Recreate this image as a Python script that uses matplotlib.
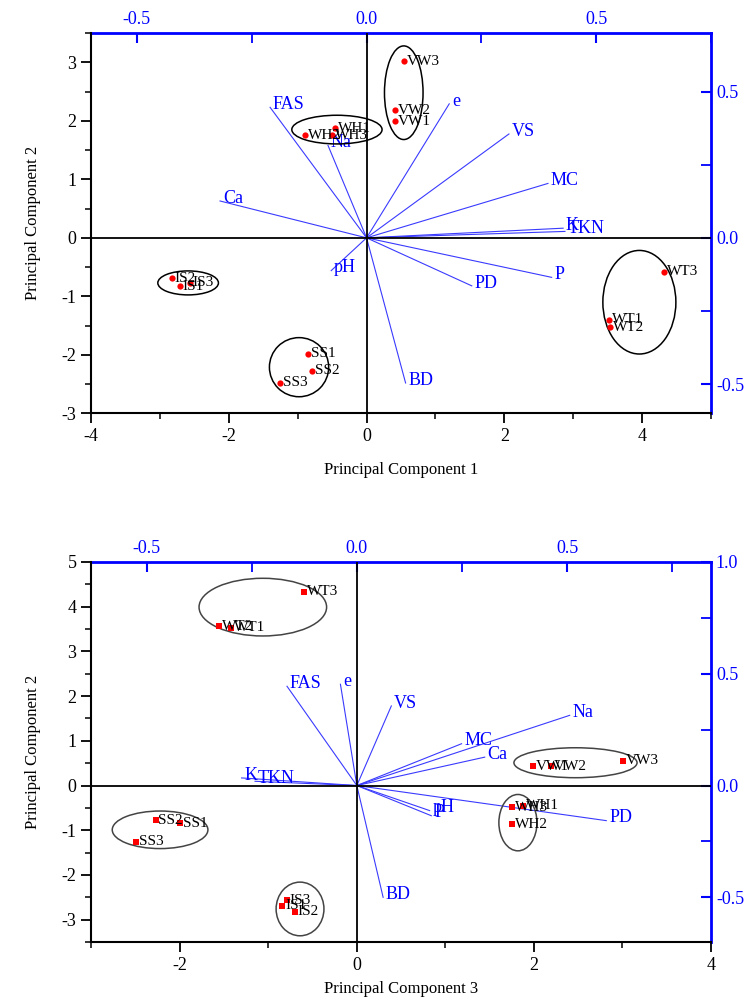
import numpy as np
import matplotlib
matplotlib.use('Agg')
import matplotlib.pyplot as plt
from matplotlib.patches import Ellipse
from matplotlib.ticker import MultipleLocator, FormatStrFormatter

plt.rcParams['font.family'] = ['Liberation Serif', 'DejaVu Serif']
plt.rcParams['axes.unicode_minus'] = False

samples = ['VW1', 'VW2', 'VW3', 'WH1', 'WH2', 'WH3', 'IS1', 'IS2', 'IS3',
           'SS1', 'SS2', 'SS3', 'WT1', 'WT2', 'WT3']
variables = ['FAS', 'e', 'Na', 'Ca', 'VS', 'MC', 'K', 'TKN', 'P', 'PD', 'pH', 'BD']

# scores, upper biplot (PC1 vs PC2)
pc1_a = [0.42, 0.42, 0.54, -0.46, -0.89, -0.50, -2.71, -2.83, -2.57,
         -0.85, -0.79, -1.26, 3.52, 3.53, 4.32]
pc2_a = [1.99, 2.18, 3.02, 1.87, 1.75, 1.75, -0.83, -0.69, -0.77,
         -1.98, -2.27, -2.48, -1.40, -1.53, -0.58]

# scores, lower biplot (PC3 vs PC2)
pc3_b = [1.99, 2.19, 3.01, 1.88, 1.75, 1.75, -0.84, -0.70, -0.79,
         -1.99, -2.27, -2.49, -1.42, -1.55, -0.59]
pc2_b = [0.43, 0.43, 0.55, -0.45, -0.87, -0.49, -2.69, -2.82, -2.56,
         -0.84, -0.78, -1.26, 3.53, 3.56, 4.33]

# loadings, upper biplot
load_x_a = [-0.21, 0.18, -0.084, -0.319, 0.31, 0.395, 0.428, 0.432, 0.403, 0.229, -0.077, 0.085]
load_y_a = [0.446, 0.458, 0.316, 0.126, 0.355, 0.186, 0.033, 0.022, -0.135, -0.164, -0.112, -0.496]

# loadings, lower biplot
load_x_b = [-0.166, -0.039, 0.506, 0.304, 0.082, 0.249, -0.274, -0.242, 0.177, 0.593, 0.173, 0.0625]
load_y_b = [0.444, 0.453, 0.314, 0.127, 0.356, 0.187, 0.034, 0.019, -0.135, -0.157, -0.112, -0.50]

# group ellipses: centre x, centre y, width, height
groups = ['VW', 'WH', 'IS', 'SS', 'WT']
ell_a = [(0.54, 2.48, 0.56, 1.60), (-0.43, 1.85, 1.31, 0.49), (-2.59, -0.77, 0.88, 0.41),
         (-0.98, -2.21, 0.86, 1.01), (3.96, -1.10, 1.06, 1.77)]
ell_b = [(2.47, 0.51, 1.39, 0.67), (1.82, -0.83, 0.43, 1.26), (-0.64, -2.76, 0.54, 1.20),
         (-2.22, -0.99, 1.08, 0.84), (-1.06, 3.99, 1.44, 1.29)]

BLUE = '#0000ff'


def biplot(fig, rect, sx, sy, lx, ly, ells, xlim, ylim, llim_x, llim_y,
           xmaj, ymaj, lmaj, xlabel, xpad, marker, ell_color):
    ax = fig.add_axes(rect)
    axl = fig.add_axes(rect)
    ax.set_zorder(2)
    axl.set_zorder(1)
    ax.patch.set_visible(False)
    axl.patch.set_visible(False)

    # scores
    ax.set_xlim(*xlim)
    ax.set_ylim(*ylim)
    ax.axhline(0, color='black', lw=1.3, zorder=1)
    ax.axvline(0, color='black', lw=1.3, zorder=1)
    ax.plot(sx, sy, linestyle='none', marker=marker, color='red',
            markersize=4.5, markeredgewidth=0, zorder=3)
    for name, x, y in zip(samples, sx, sy):
        ax.annotate(name, (x, y), xytext=(2, 0), textcoords='offset points',
                    ha='left', va='center', fontsize=11, color='black', zorder=4)
    for cx, cy, w, h in ells:
        ax.add_patch(Ellipse((cx, cy), w, h, fill=False, edgecolor=ell_color, lw=1.1, zorder=2))

    for s in ['top', 'right']:
        ax.spines[s].set_visible(False)
    for s in ['left', 'bottom']:
        ax.spines[s].set_linewidth(1.5)
    ax.xaxis.set_major_locator(MultipleLocator(xmaj))
    ax.xaxis.set_minor_locator(MultipleLocator(xmaj / 2))
    ax.yaxis.set_major_locator(MultipleLocator(ymaj))
    ax.yaxis.set_minor_locator(MultipleLocator(ymaj / 2))
    ax.tick_params(which='major', direction='out', length=7, width=1.3, labelsize=13)
    ax.tick_params(which='minor', direction='out', length=4, width=1.1)
    ax.set_xlabel(xlabel, fontsize=12, labelpad=xpad)
    ax.set_ylabel('Principal Component 2', fontsize=12, labelpad=15)

    # loadings
    axl.set_xlim(*llim_x)
    axl.set_ylim(*llim_y)
    for name, x, y in zip(variables, lx, ly):
        axl.plot([0, x], [0, y], color='#3a3aff', lw=0.8)
        axl.annotate(name, (x, y), xytext=(2, 2), textcoords='offset points',
                     ha='left', va='center', fontsize=13, color=BLUE)
    for s in ['left', 'bottom']:
        axl.spines[s].set_visible(False)
    for s in ['top', 'right']:
        axl.spines[s].set_color(BLUE)
        axl.spines[s].set_linewidth(2)
    axl.xaxis.set_ticks_position('top')
    axl.yaxis.set_ticks_position('right')
    axl.xaxis.set_major_locator(MultipleLocator(lmaj))
    axl.xaxis.set_minor_locator(MultipleLocator(lmaj / 2))
    axl.yaxis.set_major_locator(MultipleLocator(lmaj))
    axl.yaxis.set_minor_locator(MultipleLocator(lmaj / 2))
    axl.xaxis.set_major_formatter(FormatStrFormatter('%.1f'))
    axl.yaxis.set_major_formatter(FormatStrFormatter('%.1f'))
    axl.tick_params(which='major', direction='in', length=7, width=1.5,
                    color=BLUE, labelcolor=BLUE, labelsize=13)
    axl.tick_params(which='minor', direction='in', length=7, width=1.3, color=BLUE)
    return ax, axl


fig = plt.figure(figsize=(7.52, 10.01), dpi=100)

biplot(fig, [0.121, 0.587, 0.8245, 0.380], pc1_a, pc2_a, load_x_a, load_y_a, ell_a,
       (-4, 5), (-3, 3.5), (-0.6, 0.75), (-0.6, 0.7), 2, 1, 0.5,
       'Principal Component 1', 12, 'o', 'black')

biplot(fig, [0.121, 0.0589, 0.8245, 0.3797], pc3_b, pc2_b, load_x_b, load_y_b, ell_b,
       (-3, 4), (-3.5, 5), (-0.632, 0.842), (-0.7, 1.0), 2, 1, 0.5,
       'Principal Component 3', 5, 's', '#444444')

fig.savefig('out.png', dpi=100)
